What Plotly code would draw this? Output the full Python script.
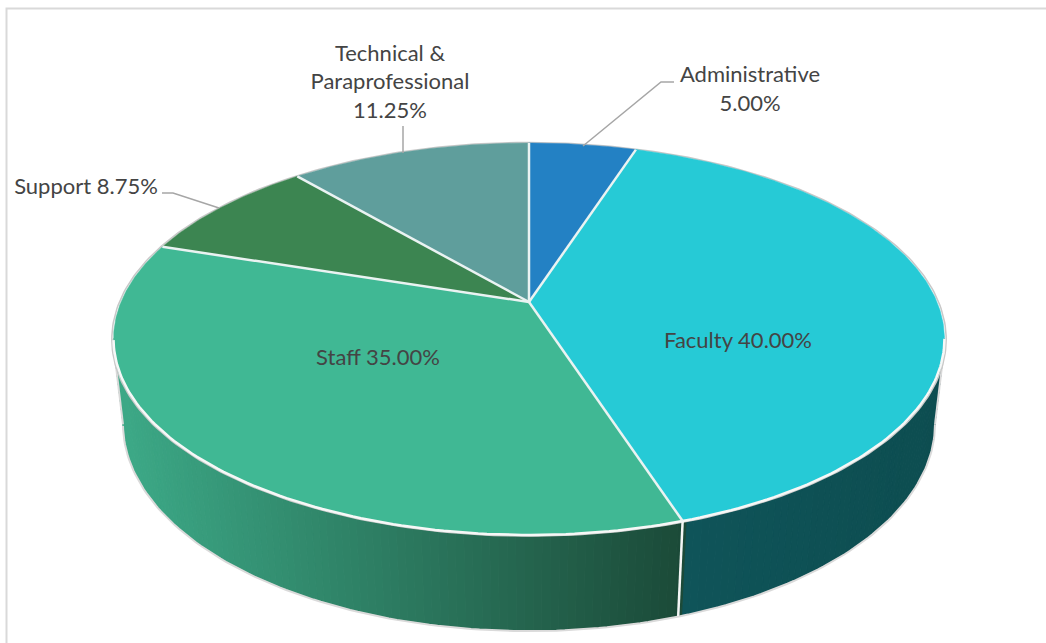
import numpy as np
import plotly.graph_objects as go

categories = ["Administrative", "Faculty", "Staff", "Support", "Technical & Paraprofessional"]
values = [5.00, 40.00, 35.00, 8.75, 11.25]
top_colors = ["#2381C4", "#26CAD6", "#40B894", "#3C8551", "#5F9E9C"]

# label layout: text lines with their centres on the page
label_lines = [
    [("Administrative", 750, 76), ("{v}", 750, 105)],
    [("Faculty {v}", 738, 342)],
    [("Staff {v}", 378, 359)],
    [("Support {v}", 86, 188)],
    [("Technical &", 390, 55), ("Paraprofessional", 390, 83), ("{v}", 390, 112)],
]
leader_paths = [
    [(674, 82), (661, 82), (583, 146)],
    [(162, 193), (173, 193), (219, 208)],
    [(403, 126), (403, 153)],
]

# perspective model of the disc, in page pixels
CX, CY, A, B, K = 529.0, 302.0, 408.0, 189.0, 0.1887
M, C = 0.0245, 85.6
TANGENT = 100.8  # angle where the wall's silhouette meets the rim


def project(theta, depth=0.0, radius=1.0):
    """theta in degrees clockwise from 12 o'clock; depth 0=top face, 1=bottom."""
    t = np.radians(theta)
    u, v = radius * np.sin(t), radius * np.cos(t)
    w = 1 + K * v + M * depth
    return CX + A * u / w, CY + (-B * v + C * depth) / w


def lerp_hex(c0, c1, t):
    a = [int(c0[i:i + 2], 16) for i in (1, 3, 5)]
    b = [int(c1[i:i + 2], 16) for i in (1, 3, 5)]
    return "#" + "".join(f"{round(p + (q - p) * t):02X}" for p, q in zip(a, b))


edges = np.concatenate([[0], np.cumsum(values)]) / sum(values) * 360
fig = go.Figure()


def poly(x, y, color, line_w=1):
    fig.add_trace(go.Scatter(x=list(x), y=list(y), mode="lines", fill="toself",
                             fillcolor=color, line=dict(color=color, width=line_w),
                             hoverinfo="skip", showlegend=False))


def stroke(x, y, color, width):
    fig.add_trace(go.Scatter(x=list(x), y=list(y), mode="lines",
                             line=dict(color=color, width=width),
                             hoverinfo="skip", showlegend=False))


# side wall strips between the two tangent angles
wall_from, wall_to = TANGENT, 360 - TANGENT
wall_edges = np.linspace(wall_from, wall_to, 160)
for th0, th1 in zip(wall_edges[:-1], wall_edges[1:]):
    mid = (th0 + th1) / 2
    xm, _ = project(mid)
    if edges[1] <= mid < edges[2]:
        col = lerp_hex("#0D4D50", "#0F5459", max(0, min(1, (945 - xm) / 260)))
    else:
        col = lerp_hex("#1B4A38", "#3CA886", max(0, min(1, (683 - xm) / 560)))
    xs0, ys0 = project(np.array([th0, th1]), 0)
    xs1, ys1 = project(np.array([th1, th0]), 1)
    poly(np.r_[xs0, xs1, xs0[0]], np.r_[ys0, ys1, ys0[0]], col)

# outlines behind the top face
t_low = np.arange(wall_from, wall_to + 0.5, 1.0)
stroke(*project(t_low, 1, 1.002), "#DADADA", 2)
for th in (wall_from, wall_to):
    xt, yt = project(th, 0, 1.002)
    xb, yb = project(th, 1, 1.002)
    stroke([xt, xb], [yt, yb], "#DADADA", 2)
t_all = np.arange(0, 360.5, 1.0)
stroke(*project(t_all, 0, 1.004), "#C8C8C8", 1.5)

# wall separators at slice boundaries on the visible front
for e in edges[1:-1]:
    if wall_from < e < wall_to:
        xt, yt = project(e, 0)
        xb, yb = project(e, 1)
        stroke([xt, xb], [yt, yb], "#F4F6F5", 2.5)

# top face
for i, v in enumerate(values):
    th = np.arange(edges[i], edges[i + 1] + 0.25, 0.5)
    rx, ry = project(th, 0)
    poly(np.r_[CX, rx, CX], np.r_[CY, ry, CY], top_colors[i], 0.5)

# front rim and radial separators
t_front = np.arange(wall_from, wall_to + 0.5, 1.0)
stroke(*project(t_front, 0), "#F6F8F7", 2.5)
for e in edges[:-1]:
    xe, ye = project(e, 0)
    stroke([CX, xe], [CY, ye], "#EAF3F2", 2.5)

# leaders
for path in leader_paths:
    stroke([p[0] for p in path], [p[1] for p in path], "#A6A6A6", 1.5)

# labels
tx, ty, tt = [], [], []
for lines, v in zip(label_lines, values):
    for text, x, y in lines:
        tx.append(x); ty.append(y); tt.append(text.replace("{v}", f"{v:.2f}%"))
fig.add_trace(go.Scatter(x=tx, y=ty, text=tt, mode="text", textposition="middle center",
                         textfont=dict(family="Lato", size=22, color="#444444"),
                         hoverinfo="skip", showlegend=False))

fig.update_layout(
    width=1046, height=643, margin=dict(l=0, r=0, t=0, b=0),
    paper_bgcolor="white", plot_bgcolor="white", showlegend=False,
    xaxis=dict(range=[0, 1046], visible=False, fixedrange=True),
    yaxis=dict(range=[643, 0], visible=False, fixedrange=True),
    shapes=[dict(type="rect", x0=6.5, y0=8.5, x1=1100, y1=700,
                 line=dict(color="#D9D9D9", width=2), layer="below")],
)
fig.write_html("out.html", config={"displayModeBar": False},
               post_script="document.body.style.margin='0';document.documentElement.style.overflow='hidden';")
